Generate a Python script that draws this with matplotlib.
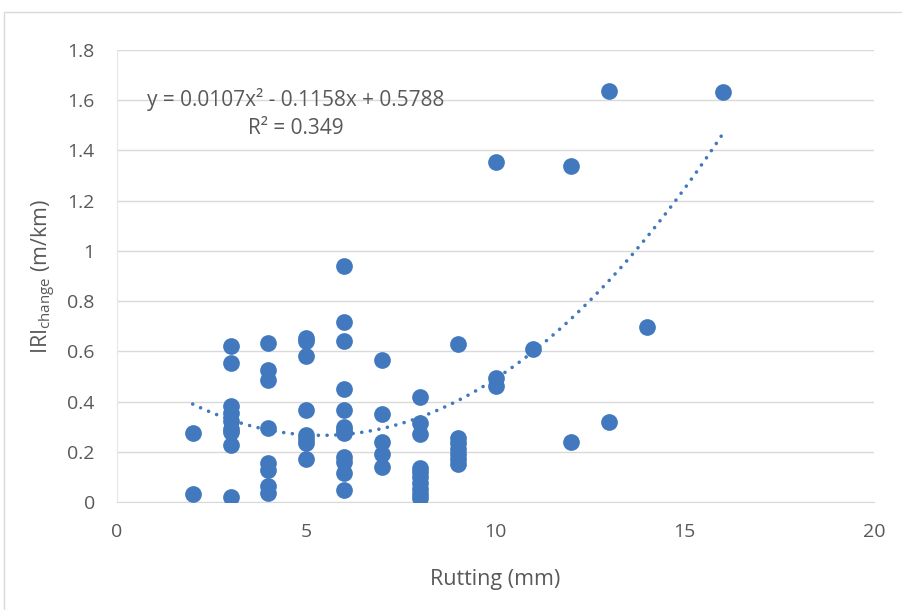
import matplotlib
matplotlib.use("Agg")
import matplotlib.pyplot as plt
import numpy as np
from matplotlib.patches import Rectangle

plt.rcParams['font.family'] = ['Open Sans', 'DejaVu Sans']

rutting = [2, 2,
           3, 3, 3, 3, 3, 3, 3, 3, 3,
           4, 4, 4, 4, 4, 4, 4, 4,
           5, 5, 5, 5, 5, 5, 5, 5,
           6, 6, 6, 6, 6, 6, 6, 6, 6, 6, 6, 6,
           7, 7, 7, 7, 7,
           8, 8, 8, 8, 8, 8, 8, 8, 8, 8,
           9, 9, 9, 9, 9, 9, 9,
           10, 10, 10,
           11,
           12, 12,
           13, 13,
           14,
           16]
iri_change = [0.275, 0.03,
              0.623, 0.555, 0.382, 0.353, 0.324, 0.29, 0.28, 0.227, 0.019,
              0.632, 0.525, 0.486, 0.296, 0.155, 0.127, 0.065, 0.037,
              0.655, 0.64, 0.582, 0.365, 0.265, 0.25, 0.235, 0.17,
              0.938, 0.716, 0.641, 0.45, 0.367, 0.30, 0.287, 0.276, 0.18, 0.16, 0.115, 0.048,
              0.566, 0.349, 0.238, 0.19, 0.138,
              0.42, 0.316, 0.272, 0.135, 0.12, 0.10, 0.075, 0.05, 0.03, 0.015,
              0.628, 0.255, 0.235, 0.21, 0.19, 0.17, 0.15,
              1.355, 0.495, 0.46,
              0.61,
              1.34, 0.237,
              1.635, 0.32,
              0.697,
              1.633]

coef = [0.0107, -0.1158, 0.5788]
r2 = 0.349
x_ticks = [0, 5, 10, 15, 20]
y_ticks = [0, 0.2, 0.4, 0.6, 0.8, 1, 1.2, 1.4, 1.6, 1.8]
y_tick_labels = ['0', '0.2', '0.4', '0.6', '0.8', '1', '1.2', '1.4', '1.6', '1.8']

fig = plt.figure(figsize=(9.02, 6.10), dpi=100)
fig.patches.append(Rectangle((4/902, -0.01), 1.0, 1 - 12/610 + 0.01, transform=fig.transFigure,
                             fill=False, edgecolor='#d9d9d9', linewidth=1.0))
ax = fig.add_axes([117/902, 108/610, (874-117)/902, (502-50)/610])

grey = '#595959'
ax.set_xlim(0, 20)
ax.set_ylim(0, 1.8)
ax.set_xticks(x_ticks)
ax.set_yticks(y_ticks)
ax.set_yticklabels(y_tick_labels)
ax.grid(axis='y', color='#d9d9d9', linewidth=1.0)
ax.set_axisbelow(True)
for s in ['top', 'right']:
    ax.spines[s].set_visible(False)
ax.spines['bottom'].set_color('#d9d9d9')
ax.spines['left'].set_color('#e6e6e6')
ax.tick_params(axis='both', length=0, labelsize=14, labelcolor=grey)
ax.tick_params(axis='y', pad=16)
ax.tick_params(axis='x', pad=15)

ax.scatter(rutting, iri_change, s=145, color='#4178BE', zorder=3, linewidths=0)

xs = np.linspace(min(rutting), max(rutting), 400)
ys = np.polyval(coef, xs)
ax.plot(xs, ys, color='#4178BE', linestyle=(0, (0.01, 2.4)), linewidth=2.6, zorder=2,
        dash_capstyle='round')

ax.text(4.73, 1.603, 'y = 0.0107x² - 0.1158x + 0.5788', ha='center', va='center',
        fontsize=15, color=grey)
ax.text(4.73, 1.488, 'R² = 0.349', ha='center', va='center', fontsize=15, color=grey)

ax.set_xlabel('Rutting (mm)', fontsize=15.5, color=grey, labelpad=20)
ax.set_ylabel('IRI$_{\\mathregular{change}}$ (m/km)', fontsize=15.5, color=grey, labelpad=7)

fig.savefig('out.png', dpi=100)
